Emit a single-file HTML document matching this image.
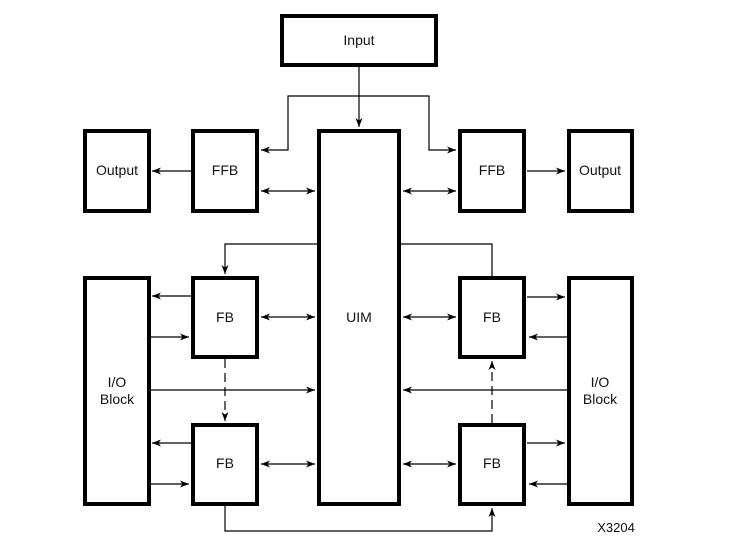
<!DOCTYPE html>
<html><head><meta charset="utf-8"><style>
html,body{margin:0;padding:0;background:#fff}
text{font-family:"Liberation Sans",Arial,sans-serif;font-size:14px;fill:#111}
</style></head><body>
<svg width="747" height="550" viewBox="0 0 747 550" xmlns="http://www.w3.org/2000/svg">
<defs>
<marker id="a" markerWidth="10" markerHeight="8" refX="9" refY="4" orient="auto-start-reverse" markerUnits="userSpaceOnUse">
<path d="M0,0.5 L9,4 L0,7.5 L2.5,4 Z" fill="#000"/>
</marker>
</defs>
<g fill="none" stroke="#000" stroke-width="4">
<rect x="282" y="16" width="154" height="49"/>
<rect x="85" y="131" width="64" height="80"/>
<rect x="193" y="131" width="64" height="80"/>
<rect x="319" y="131" width="80" height="373"/>
<rect x="460" y="131" width="64" height="80"/>
<rect x="569" y="131" width="63" height="80"/>
<rect x="85" y="278" width="64" height="226"/>
<rect x="193" y="278" width="64" height="79"/>
<rect x="193" y="425" width="64" height="79"/>
<rect x="460" y="278" width="64" height="79"/>
<rect x="460" y="425" width="64" height="79"/>
<rect x="569" y="278" width="63" height="226"/>
</g>
<g fill="none" stroke="#000" stroke-width="1.2">
<path d="M359,67 V127" marker-end="url(#a)"/>
<path d="M359,96 H288 V150 H261" marker-end="url(#a)"/>
<path d="M359,96 H429 V150 H456" marker-end="url(#a)"/>
<path d="M191,171 H152" marker-end="url(#a)"/>
<path d="M527,171 H565" marker-end="url(#a)"/>
<path d="M261,191 H315" marker-start="url(#a)" marker-end="url(#a)"/>
<path d="M403,191 H456" marker-start="url(#a)" marker-end="url(#a)"/>
<path d="M317,244 H225 V274" marker-end="url(#a)"/>
<path d="M401,244 H492 V276"/>
<path d="M191,296 H152" marker-end="url(#a)"/>
<path d="M151,337 H189" marker-end="url(#a)"/>
<path d="M261,317 H315" marker-start="url(#a)" marker-end="url(#a)"/>
<path d="M403,317 H456" marker-start="url(#a)" marker-end="url(#a)"/>
<path d="M527,297 H565" marker-end="url(#a)"/>
<path d="M567,337 H529" marker-end="url(#a)"/>
<path d="M151,390 H315" marker-end="url(#a)"/>
<path d="M567,390 H403" marker-end="url(#a)"/>
<path d="M225,359 V421" stroke-dasharray="9,5" marker-end="url(#a)"/>
<path d="M492,423 V361" stroke-dasharray="9,5" marker-end="url(#a)"/>
<path d="M191,443 H152" marker-end="url(#a)"/>
<path d="M151,484 H189" marker-end="url(#a)"/>
<path d="M261,464 H315" marker-start="url(#a)" marker-end="url(#a)"/>
<path d="M403,464 H456" marker-start="url(#a)" marker-end="url(#a)"/>
<path d="M527,443 H565" marker-end="url(#a)"/>
<path d="M567,484 H529" marker-end="url(#a)"/>
<path d="M225,506 V531 H492 V508" marker-end="url(#a)"/>
</g>
<g text-anchor="middle">
<text x="359" y="45">Input</text>
<text x="117" y="175">Output</text>
<text x="225" y="175">FFB</text>
<text x="492" y="175">FFB</text>
<text x="600" y="175">Output</text>
<text x="225" y="322">FB</text>
<text x="359" y="322">UIM</text>
<text x="492" y="322">FB</text>
<text x="225" y="468">FB</text>
<text x="492" y="468">FB</text>
<text x="117" y="387">I/O</text>
<text x="117" y="404">Block</text>
<text x="600" y="387">I/O</text>
<text x="600" y="404">Block</text>
<text x="616" y="532" style="font-size:13px">X3204</text>
</g>
</svg>
</body></html>
